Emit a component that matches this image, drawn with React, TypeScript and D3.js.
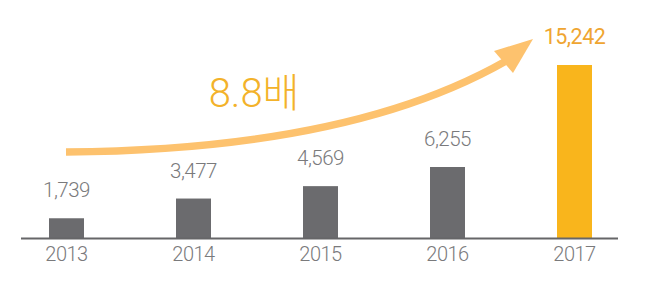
import React from "react";
import * as d3 from "d3";

const years = ["2013", "2014", "2015", "2016", "2017"];
const values = [1739, 3477, 4569, 6255, 15242];
const growthLabel = "8.8배";

const W = 650;
const H = 293;
const BASE_Y = 238;
const TOP_Y = 65;
const BAR_W = 35;

const GRAY = "#6b6b6e";
const ORANGE = "#f9b51c";
const ARROW = "#fdc26e";
const TEXT_GRAY = "#7a7a7c";
const FONT = "Roboto, 'Noto Sans CJK KR', sans-serif";

export default function App() {
  const x = d3.scalePoint<string>().domain(years).range([66.5, 574.5]);
  const y = d3.scaleLinear().domain([0, d3.max(values) as number]).range([BASE_Y, TOP_Y]);
  const fmt = d3.format(",");
  const last = years.length - 1;

  // arrow curve (annotation)
  const p0: [number, number] = [66, 152];
  const c: [number, number] = [350, 150];
  const p1: [number, number] = [506, 61];
  const shaft = `M${p0[0]},${p0[1]} Q${c[0]},${c[1]} ${p1[0]},${p1[1]}`;
  const head = "M533,39 L494,51 L513,73 Z";

  return (
    <svg
      width={W}
      height={H}
      style={{ position: "absolute", left: 0, top: 0, background: "#fff" }}
    >
      <path d={shaft} fill="none" stroke={ARROW} strokeWidth={7.5} />
      <path d={head} fill={ARROW} />
      <text
        x={254}
        y={106.5}
        textAnchor="middle"
        fontFamily={FONT}
        fontWeight={300}
        fontSize={40}
        fill="#f3b22a"
      >
        {growthLabel}
      </text>
      {values.map((v, i) => (
        <rect
          key={years[i]}
          x={(x(years[i]) as number) - BAR_W / 2}
          y={y(v)}
          width={BAR_W}
          height={BASE_Y - y(v)}
          fill={i === last ? ORANGE : GRAY}
        />
      ))}
      <line x1={21} x2={618} y1={BASE_Y + 0.5} y2={BASE_Y + 0.5} stroke="#666668" strokeWidth={2} />
      {values.map((v, i) => (
        <text
          key={"v" + years[i]}
          x={x(years[i]) as number}
          y={y(v) - 21}
          textAnchor="middle"
          fontFamily={FONT}
          fontWeight={i === last ? 400 : 300}
          fontSize={i === last ? 21.5 : 20.5}
          fill={i === last ? "#efa531" : TEXT_GRAY}
          letterSpacing={-0.5}
        >
          {fmt(v)}
        </text>
      ))}
      {years.map((yr) => (
        <text
          key={"y" + yr}
          x={x(yr) as number}
          y={261}
          textAnchor="middle"
          fontFamily={FONT}
          fontWeight={300}
          fontSize={20}
          fill={TEXT_GRAY}
          letterSpacing={-0.5}
        >
          {yr}
        </text>
      ))}
    </svg>
  );
}
